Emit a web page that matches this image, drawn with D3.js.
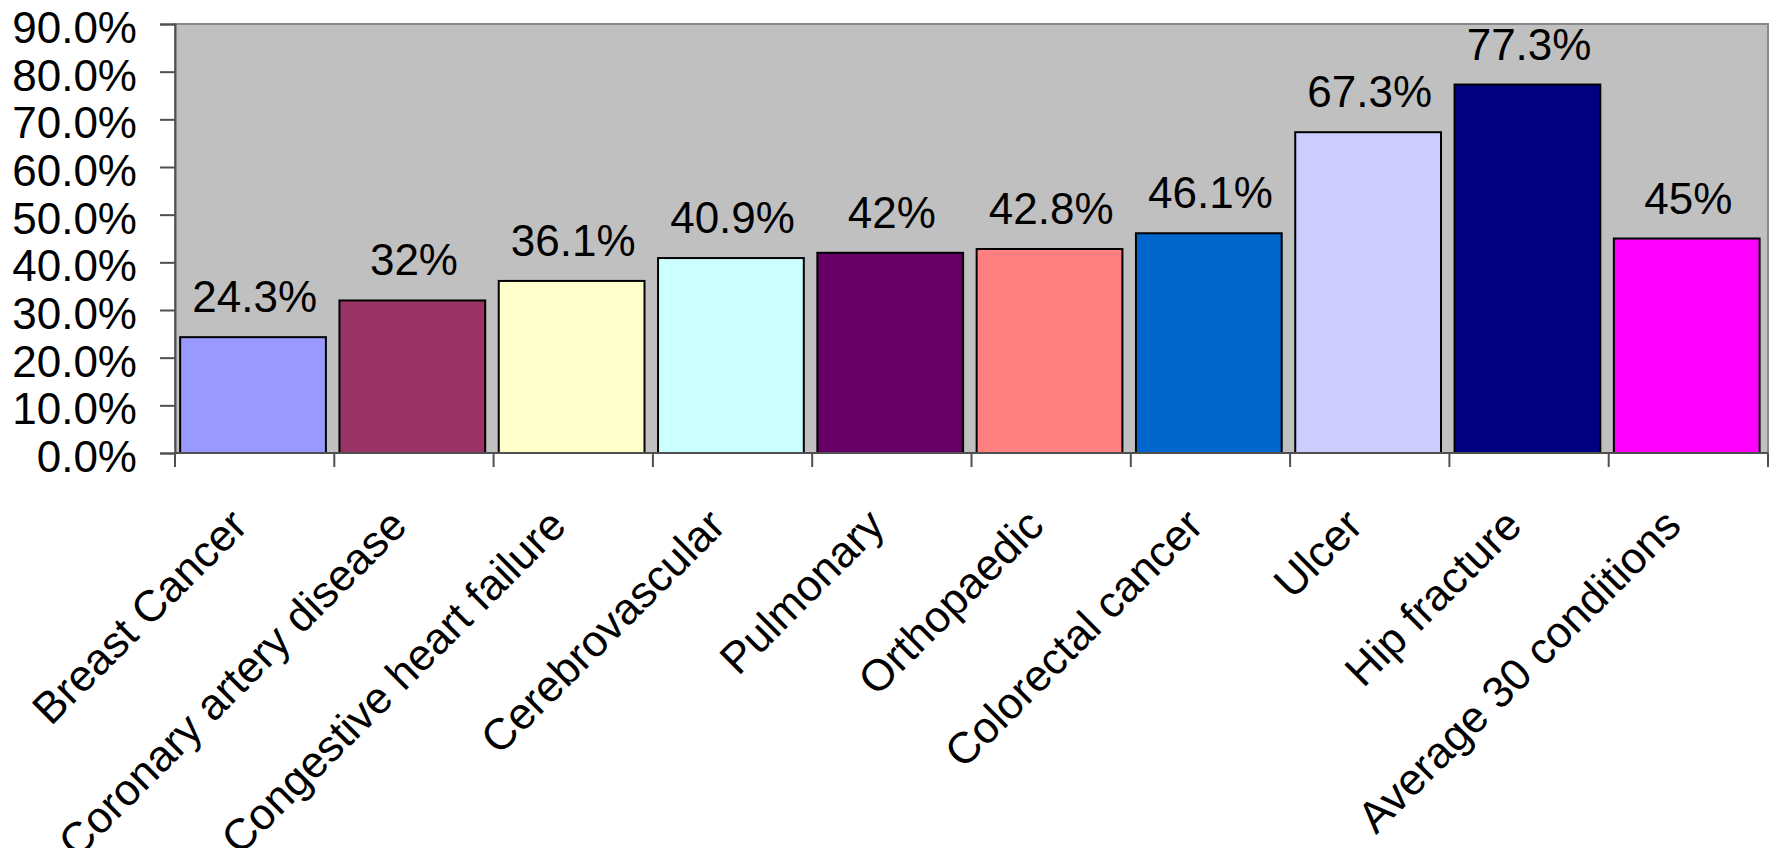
<!DOCTYPE html>
<html>
<head>
<meta charset="utf-8">
<script src="https://cdn.jsdelivr.net/npm/d3@7"></script>
<style>
  body { margin: 0; background: #fff; }
  text { font-family: "Liberation Sans", Arial, sans-serif; fill: #000; }
</style>
</head>
<body>
<script>
var categories = ["Breast Cancer", "Coronary artery disease", "Congestive heart failure",
                  "Cerebrovascular", "Pulmonary", "Orthopaedic", "Colorectal cancer",
                  "Ulcer", "Hip fracture", "Average 30 conditions"];
var values = [24.3, 32, 36.1, 40.9, 42, 42.8, 46.1, 67.3, 77.3, 45];
var colors = ["#9999ff", "#993366", "#ffffcc", "#ccffff", "#660066",
              "#ff8080", "#0066cc", "#ccccff", "#000080", "#ff00ff"];
var yTicks = [0, 10, 20, 30, 40, 50, 60, 70, 80, 90];

var width = 1771,
    height = 848,
    plotLeft = 175, plotRight = 1768,
    plotTop = 24, plotBottom = 453,
    fontSize = 44;

var svg = d3.select("body").append("svg")
    .attr("width", width)
    .attr("height", height);

// category slots (tick boundaries) and bars inside them
var slot = d3.scaleBand()
    .domain(categories)
    .range([plotLeft, plotRight]);

var x = d3.scaleBand()
    .domain(categories)
    .range([plotLeft, plotRight])
    .paddingInner(0.085)
    .paddingOuter(0.0425)
    .align(0.38);

var y = d3.scaleLinear()
    .domain([0, 90])
    .range([plotBottom, plotTop]);

// plot area
svg.append("rect")
    .attr("x", plotLeft).attr("y", plotTop)
    .attr("width", plotRight - plotLeft).attr("height", plotBottom - plotTop)
    .attr("fill", "#c0c0c0")
    .attr("stroke", "#888")
    .attr("stroke-width", 2);

// bars
svg.selectAll(".bar")
    .data(values)
  .enter().append("rect")
    .attr("class", "bar")
    .attr("x", function(d, i) { return x(categories[i]); })
    .attr("y", function(d) { return y(d); })
    .attr("width", x.bandwidth())
    .attr("height", function(d) { return plotBottom - y(d); })
    .attr("fill", function(d, i) { return colors[i]; })
    .attr("stroke", "#000")
    .attr("stroke-width", 2);

// value labels
svg.selectAll(".val")
    .data(values)
  .enter().append("text")
    .attr("class", "val")
    .attr("x", function(d, i) { return slot(categories[i]) + slot.bandwidth() / 2; })
    .attr("y", function(d) { return y(d) - 25; })
    .attr("text-anchor", "middle")
    .style("font-size", fontSize + "px")
    .text(function(d) { return d + "%"; });

// y axis
var yAxis = d3.axisLeft(y)
    .tickValues(yTicks)
    .tickSize(15)
    .tickPadding(23)
    .tickFormat(function(d) { return d.toFixed(1) + "%"; });

var gy = svg.append("g")
    .attr("transform", "translate(" + plotLeft + ",0)")
    .call(yAxis);
gy.select(".domain").attr("stroke", "#505050").attr("stroke-width", 2);
gy.selectAll(".tick line").attr("stroke", "#505050").attr("stroke-width", 2);
gy.selectAll(".tick text")
    .attr("dy", "0.42em")
    .style("font-size", fontSize + "px")
    .style("font-family", "Liberation Sans, Arial, sans-serif")
    .attr("fill", "#000");

// x axis line and ticks at category boundaries
svg.append("line")
    .attr("x1", plotLeft).attr("x2", plotRight)
    .attr("y1", plotBottom).attr("y2", plotBottom)
    .attr("stroke", "#505050").attr("stroke-width", 2);

var bounds = categories.map(function(c) { return slot(c); });
bounds.push(plotRight);

svg.selectAll(".xtick")
    .data(bounds)
  .enter().append("line")
    .attr("class", "xtick")
    .attr("x1", function(d) { return d; }).attr("x2", function(d) { return d; })
    .attr("y1", plotBottom).attr("y2", plotBottom + 14)
    .attr("stroke", "#505050").attr("stroke-width", 2);

// rotated category labels
svg.selectAll(".cat")
    .data(categories)
  .enter().append("text")
    .attr("class", "cat")
    .attr("transform", function(d) {
      return "translate(" + (slot(d) + slot.bandwidth() / 2 - 5) + "," + (plotBottom + 75) + ") rotate(-45)";
    })
    .attr("text-anchor", "end")
    .style("font-size", fontSize + "px")
    .text(function(d) { return d; });
</script>
</body>
</html>
